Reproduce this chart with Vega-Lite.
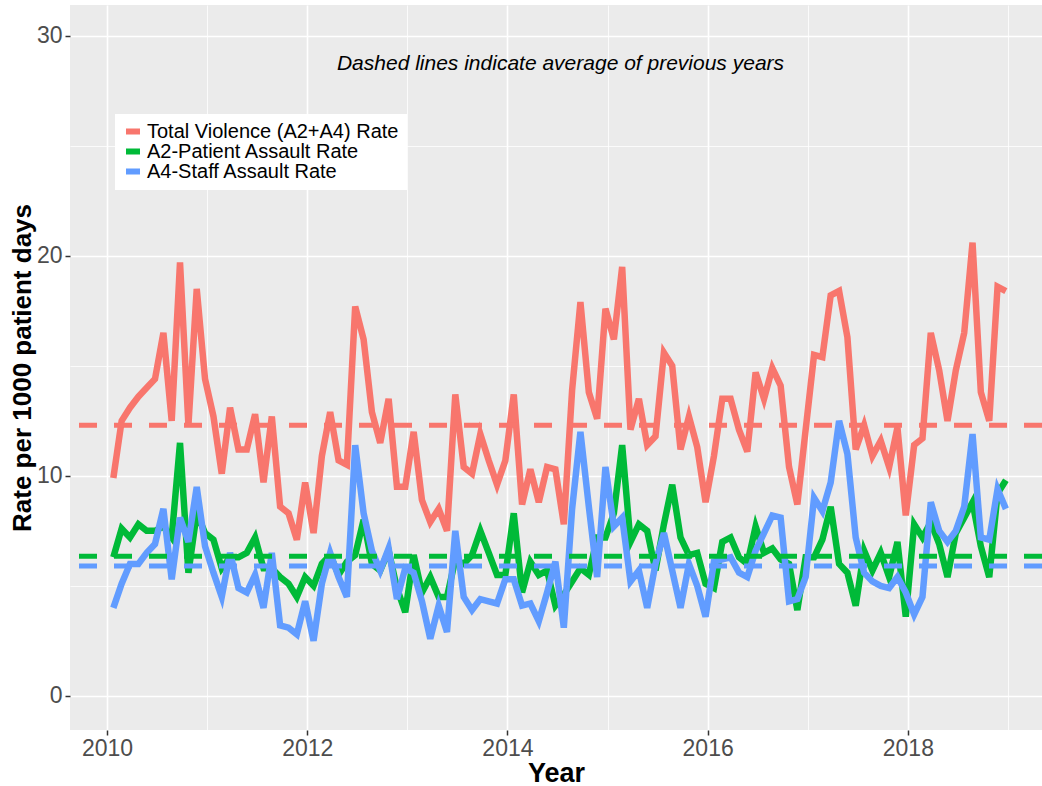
{
  "$schema": "https://vega.github.io/schema/vega-lite/v6.json",
  "width": 972,
  "height": 725,
  "autosize": {"type": "none"},
  "padding": {"left": 70, "top": 5, "right": 0, "bottom": 56},
  "background": "white",
  "config": {
    "view": {"fill": "#EBEBEB", "stroke": null},
    "font": "Liberation Sans"
  },
  "datasets": {
    "rates": [
      {"t": 2010.063, "total": 9.9, "a2": 6.3, "a4": 4.0},
      {"t": 2010.146, "total": 12.5, "a2": 7.6, "a4": 5.1},
      {"t": 2010.229, "total": 13.1, "a2": 7.2, "a4": 6.0},
      {"t": 2010.313, "total": 13.6, "a2": 7.8, "a4": 6.0},
      {"t": 2010.396, "total": 14.0, "a2": 7.5, "a4": 6.5},
      {"t": 2010.479, "total": 14.4, "a2": 7.5, "a4": 6.9},
      {"t": 2010.563, "total": 16.5, "a2": 7.7, "a4": 8.5},
      {"t": 2010.646, "total": 12.5, "a2": 7.2, "a4": 5.3},
      {"t": 2010.729, "total": 19.7, "a2": 11.5, "a4": 8.1},
      {"t": 2010.813, "total": 12.3, "a2": 5.6, "a4": 7.0},
      {"t": 2010.896, "total": 18.5, "a2": 8.3, "a4": 9.5},
      {"t": 2010.979, "total": 14.4, "a2": 7.4, "a4": 6.8},
      {"t": 2011.063, "total": 12.7, "a2": 7.1, "a4": 5.6},
      {"t": 2011.146, "total": 10.1, "a2": 5.8, "a4": 4.5},
      {"t": 2011.229, "total": 13.1, "a2": 6.3, "a4": 6.5},
      {"t": 2011.313, "total": 11.2, "a2": 6.3, "a4": 4.9},
      {"t": 2011.396, "total": 11.2, "a2": 6.5, "a4": 4.7},
      {"t": 2011.479, "total": 12.8, "a2": 7.2, "a4": 5.5},
      {"t": 2011.563, "total": 9.7, "a2": 5.8, "a4": 4.0},
      {"t": 2011.646, "total": 12.7, "a2": 5.8, "a4": 6.5},
      {"t": 2011.729, "total": 8.6, "a2": 5.4, "a4": 3.2},
      {"t": 2011.813, "total": 8.3, "a2": 5.1, "a4": 3.1},
      {"t": 2011.896, "total": 7.1, "a2": 4.5, "a4": 2.8},
      {"t": 2011.979, "total": 9.7, "a2": 5.4, "a4": 4.3},
      {"t": 2012.063, "total": 7.4, "a2": 5.0, "a4": 2.5},
      {"t": 2012.146, "total": 10.9, "a2": 6.0, "a4": 5.1},
      {"t": 2012.229, "total": 12.9, "a2": 6.4, "a4": 6.5},
      {"t": 2012.313, "total": 10.7, "a2": 5.5, "a4": 5.4},
      {"t": 2012.396, "total": 10.5, "a2": 6.1, "a4": 4.5},
      {"t": 2012.479, "total": 17.7, "a2": 6.4, "a4": 11.4},
      {"t": 2012.563, "total": 16.2, "a2": 8.0, "a4": 8.3},
      {"t": 2012.646, "total": 12.9, "a2": 6.0, "a4": 6.6},
      {"t": 2012.729, "total": 11.5, "a2": 5.7, "a4": 5.7},
      {"t": 2012.813, "total": 13.5, "a2": 6.6, "a4": 6.7},
      {"t": 2012.896, "total": 9.5, "a2": 4.9, "a4": 4.4},
      {"t": 2012.979, "total": 9.5, "a2": 3.8, "a4": 5.8},
      {"t": 2013.063, "total": 12.0, "a2": 6.4, "a4": 5.6},
      {"t": 2013.146, "total": 8.9, "a2": 4.7, "a4": 4.3},
      {"t": 2013.229, "total": 7.9, "a2": 5.4, "a4": 2.6},
      {"t": 2013.313, "total": 8.5, "a2": 4.5, "a4": 4.1},
      {"t": 2013.396, "total": 7.5, "a2": 4.5, "a4": 2.9},
      {"t": 2013.479, "total": 13.7, "a2": 6.2, "a4": 7.5},
      {"t": 2013.563, "total": 10.4, "a2": 6.0, "a4": 4.5},
      {"t": 2013.646, "total": 10.1, "a2": 6.4, "a4": 3.9},
      {"t": 2013.729, "total": 11.9, "a2": 7.5, "a4": 4.4},
      {"t": 2013.813, "total": 10.7, "a2": 6.5, "a4": 4.3},
      {"t": 2013.896, "total": 9.6, "a2": 5.5, "a4": 4.2},
      {"t": 2013.979, "total": 10.7, "a2": 5.5, "a4": 5.3},
      {"t": 2014.063, "total": 13.7, "a2": 8.3, "a4": 5.3},
      {"t": 2014.146, "total": 8.7, "a2": 4.7, "a4": 4.1},
      {"t": 2014.229, "total": 10.3, "a2": 6.1, "a4": 4.2},
      {"t": 2014.313, "total": 8.8, "a2": 5.5, "a4": 3.4},
      {"t": 2014.396, "total": 10.4, "a2": 5.7, "a4": 4.7},
      {"t": 2014.479, "total": 10.3, "a2": 4.1, "a4": 6.1},
      {"t": 2014.563, "total": 7.8, "a2": 4.6, "a4": 3.1},
      {"t": 2014.646, "total": 13.9, "a2": 5.2, "a4": 8.5},
      {"t": 2014.729, "total": 17.9, "a2": 5.8, "a4": 12.0},
      {"t": 2014.813, "total": 13.8, "a2": 5.5, "a4": 8.6},
      {"t": 2014.896, "total": 12.6, "a2": 7.2, "a4": 5.4},
      {"t": 2014.979, "total": 17.6, "a2": 7.2, "a4": 10.4},
      {"t": 2015.063, "total": 16.2, "a2": 8.3, "a4": 7.7},
      {"t": 2015.146, "total": 19.5, "a2": 11.4, "a4": 8.1},
      {"t": 2015.229, "total": 12.1, "a2": 7.0, "a4": 5.2},
      {"t": 2015.313, "total": 13.5, "a2": 7.8, "a4": 5.7},
      {"t": 2015.396, "total": 11.4, "a2": 7.5, "a4": 4.0},
      {"t": 2015.479, "total": 11.8, "a2": 5.7, "a4": 6.0},
      {"t": 2015.563, "total": 15.6, "a2": 7.8, "a4": 7.4},
      {"t": 2015.646, "total": 15.0, "a2": 9.6, "a4": 5.7},
      {"t": 2015.729, "total": 11.2, "a2": 7.2, "a4": 4.0},
      {"t": 2015.813, "total": 12.7, "a2": 6.4, "a4": 6.0},
      {"t": 2015.896, "total": 11.3, "a2": 6.5, "a4": 5.0},
      {"t": 2015.979, "total": 8.8, "a2": 5.1, "a4": 3.6},
      {"t": 2016.063, "total": 10.9, "a2": 4.9, "a4": 6.1},
      {"t": 2016.146, "total": 13.5, "a2": 7.0, "a4": 6.2},
      {"t": 2016.229, "total": 13.5, "a2": 7.2, "a4": 6.3},
      {"t": 2016.313, "total": 12.1, "a2": 6.3, "a4": 5.6},
      {"t": 2016.396, "total": 11.1, "a2": 6.0, "a4": 5.4},
      {"t": 2016.479, "total": 14.7, "a2": 7.7, "a4": 6.6},
      {"t": 2016.563, "total": 13.5, "a2": 6.5, "a4": 7.4},
      {"t": 2016.646, "total": 14.9, "a2": 6.7, "a4": 8.2},
      {"t": 2016.729, "total": 14.1, "a2": 6.2, "a4": 8.1},
      {"t": 2016.813, "total": 10.4, "a2": 6.0, "a4": 4.3},
      {"t": 2016.896, "total": 8.7, "a2": 3.9, "a4": 4.4},
      {"t": 2016.979, "total": 12.1, "a2": 6.3, "a4": 5.4},
      {"t": 2017.063, "total": 15.5, "a2": 6.3, "a4": 9.0},
      {"t": 2017.146, "total": 15.4, "a2": 7.1, "a4": 8.4},
      {"t": 2017.229, "total": 18.2, "a2": 8.6, "a4": 9.7},
      {"t": 2017.313, "total": 18.4, "a2": 6.0, "a4": 12.5},
      {"t": 2017.396, "total": 16.3, "a2": 5.6, "a4": 11.0},
      {"t": 2017.479, "total": 11.2, "a2": 4.1, "a4": 7.2},
      {"t": 2017.563, "total": 12.3, "a2": 6.6, "a4": 5.6},
      {"t": 2017.646, "total": 10.9, "a2": 5.7, "a4": 5.2},
      {"t": 2017.729, "total": 11.6, "a2": 6.5, "a4": 5.0},
      {"t": 2017.813, "total": 10.4, "a2": 5.4, "a4": 4.9},
      {"t": 2017.896, "total": 12.2, "a2": 7.0, "a4": 5.4},
      {"t": 2017.979, "total": 8.2, "a2": 3.6, "a4": 4.7},
      {"t": 2018.063, "total": 11.4, "a2": 7.8, "a4": 3.7},
      {"t": 2018.146, "total": 11.7, "a2": 7.2, "a4": 4.5},
      {"t": 2018.229, "total": 16.5, "a2": 7.9, "a4": 8.8},
      {"t": 2018.313, "total": 14.8, "a2": 6.9, "a4": 7.5},
      {"t": 2018.396, "total": 12.5, "a2": 5.4, "a4": 7.0},
      {"t": 2018.479, "total": 14.8, "a2": 7.4, "a4": 7.5},
      {"t": 2018.563, "total": 16.5, "a2": 8.1, "a4": 8.6},
      {"t": 2018.646, "total": 20.6, "a2": 8.8, "a4": 11.9},
      {"t": 2018.729, "total": 13.8, "a2": 6.8, "a4": 7.2},
      {"t": 2018.813, "total": 12.5, "a2": 5.4, "a4": 7.1},
      {"t": 2018.896, "total": 18.6, "a2": 9.2, "a4": 9.4},
      {"t": 2018.979, "total": 18.4, "a2": 9.8, "a4": 8.5}
    ],
    "avg": [
      {"key": "total", "avg": 12.3},
      {"key": "a2", "avg": 6.35},
      {"key": "a4", "avg": 5.9}
    ],
    "note": [
      {"t": 2014.53, "y": 28.7, "label": "Dashed lines indicate average of previous years"}
    ]
  },
  "layer": [
    {
      "data": {"name": "rates"},
      "transform": [{"fold": ["total", "a2", "a4"], "as": ["key", "rate"]}],
      "mark": {"type": "line", "strokeWidth": 6.5},
      "encoding": {
        "x": {
          "field": "t", "type": "quantitative", "title": "Year",
          "scale": {"domain": [2009.63, 2019.34], "nice": false, "zero": false},
          "axis": {
            "values": [2010, 2011, 2012, 2013, 2014, 2015, 2016, 2017, 2018, 2019],
            "labelExpr": "datum.value % 2 === 0 ? format(datum.value, 'd') : ''",
            "grid": true,
            "gridColor": "white",
            "gridWidth": {"condition": {"test": "datum.value % 2 === 0", "value": 1.6}, "value": 0.8},
            "tickColor": {"condition": {"test": "datum.value % 2 === 0", "value": "#333333"}, "value": "transparent"},
            "tickSize": 5, "tickWidth": 1.5,
            "domain": false,
            "labelFontSize": 23, "labelColor": "#4D4D4D", "labelPadding": 2,
            "titleFontSize": 27, "titleFontWeight": "bold", "titleColor": "black", "titlePadding": 0
          }
        },
        "y": {
          "field": "rate", "type": "quantitative", "title": "Rate per 1000 patient days",
          "scale": {"domain": [-1.55, 31.4], "nice": false, "zero": false},
          "axis": {
            "values": [0, 5, 10, 15, 20, 25, 30],
            "labelExpr": "datum.value % 10 === 0 ? format(datum.value, 'd') : ''",
            "grid": true,
            "gridColor": "white",
            "gridWidth": {"condition": {"test": "datum.value % 10 === 0", "value": 1.6}, "value": 0.8},
            "tickColor": {"condition": {"test": "datum.value % 10 === 0", "value": "#333333"}, "value": "transparent"},
            "tickSize": 5, "tickWidth": 1.5,
            "domain": false,
            "labelFontSize": 23, "labelColor": "#4D4D4D", "labelPadding": 3,
            "titleFontSize": 26, "titleFontWeight": "bold", "titleColor": "black", "titlePadding": 1
          }
        },
        "color": {
          "field": "key", "type": "nominal",
          "scale": {"domain": ["total", "a2", "a4"], "range": ["#F8766D", "#00BA38", "#619CFF"]},
          "legend": {
            "orient": "none", "legendX": 45, "legendY": 109,
            "title": null, "fillColor": "white", "padding": 8,
            "labelFontSize": 20, "labelColor": "black", "labelOffset": 4, "labelLimit": 0,
            "symbolType": "stroke", "symbolStrokeWidth": 6, "symbolSize": 196,
            "rowPadding": -1, "clipHeight": 19,
            "labelExpr": "datum.label == 'total' ? 'Total Violence (A2+A4) Rate' : datum.label == 'a2' ? 'A2-Patient Assault Rate' : 'A4-Staff Assault Rate'"
          }
        }
      }
    },
    {
      "data": {"name": "avg"},
      "mark": {"type": "rule", "strokeWidth": 5, "strokeDash": [18, 17]},
      "encoding": {
        "y": {"field": "avg", "type": "quantitative"},
        "stroke": {
          "field": "key", "type": "nominal",
          "scale": {"domain": ["total", "a2", "a4"], "range": ["#F8766D", "#00BA38", "#619CFF"]},
          "legend": null
        }
      }
    },
    {
      "data": {"name": "note"},
      "mark": {"type": "text", "fontStyle": "italic", "fontSize": 21, "align": "center", "baseline": "middle", "color": "black"},
      "encoding": {
        "x": {"field": "t", "type": "quantitative"},
        "y": {"field": "y", "type": "quantitative"},
        "text": {"field": "label"}
      }
    }
  ]
}
